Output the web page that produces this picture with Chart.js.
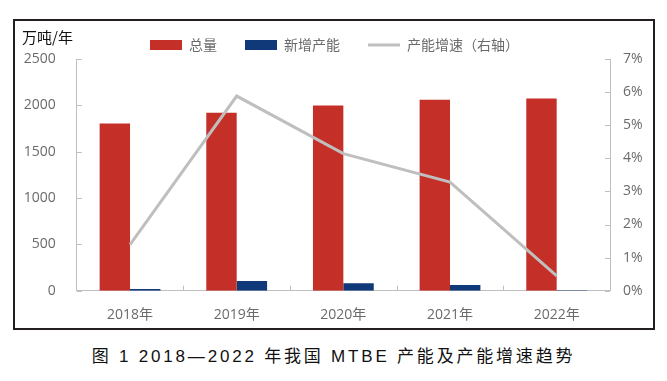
<!DOCTYPE html>
<html>
<head>
<meta charset="utf-8">
<script src="https://cdn.jsdelivr.net/npm/chart.js@4.4.1/dist/chart.umd.min.js"></script>
<style>
  html, body { margin: 0; padding: 0; background: #ffffff; }
  body { width: 667px; height: 381px; position: relative; overflow: hidden; }
  #frame { position: absolute; left: 13px; top: 19px; width: 638px; height: 307px; border: 2px solid #231f20; }
  #cv { position: absolute; left: 16px; top: 22px; }
  #unit { position: absolute; left: 22px; top: 27px; font: 15px "Noto Sans CJK SC", sans-serif; color: #111; line-height: 20px; }
  #caption { position: absolute; left: 0; width: 667px; top: 346px; text-align: center; font: 17px "Liberation Sans", "Noto Sans CJK SC", sans-serif; letter-spacing: 2.8px; color: #111; line-height: 22px; }
</style>
</head>
<body>
<div id="frame"></div>
<canvas id="cv" width="637" height="306"></canvas>
<div id="unit">万吨/年</div>
<div id="caption">图 1 2018—2022 年我国 MTBE 产能及产能增速趋势</div>
<script>
const categories = ["2018年", "2019年", "2020年", "2021年", "2022年"];
const totalCapacity = [1804, 1919, 1999, 2060, 2075];
const newCapacity = [18, 104, 80, 62, 4];
const growthRate = [1.39, 5.88, 4.14, 3.28, 0.45];
const seriesNames = ["总量", "新增产能", "产能增速（右轴）"];

const GRAY_TXT = "#6a6a6a";
const AXIS = "#bfbfbf";
const FONT = "'Open Sans', 'Noto Sans CJK SC', sans-serif";

const innerTicks = {
  id: "innerTicks",
  afterDraw(chart) {
    const ctx = chart.ctx;
    const y = chart.scales.y, y1 = chart.scales.y1, x = chart.scales.x;
    ctx.save();
    ctx.strokeStyle = AXIS;
    ctx.lineWidth = 1;
    ctx.beginPath();
    y.ticks.forEach(t => {
      const py = Math.round(y.getPixelForValue(t.value)) + 0.5;
      ctx.moveTo(y.right, py); ctx.lineTo(y.right + 5, py);
    });
    y1.ticks.forEach(t => {
      const py = Math.round(y1.getPixelForValue(t.value)) + 0.5;
      ctx.moveTo(y1.left - 5, py); ctx.lineTo(y1.left, py);
    });
    for (let i = 1; i < categories.length; i++) {
      const px = Math.round((x.getPixelForValue(i - 1) + x.getPixelForValue(i)) / 2) + 0.5;
      ctx.moveTo(px, x.top - 5); ctx.lineTo(px, x.top);
    }
    ctx.stroke();
    ctx.restore();
  }
};

const legendFix = {
  id: "legendFix",
  beforeLayout(chart) {
    const lg = chart.legend;
    if (lg && !lg._patched) {
      const f = lg.fit;
      lg.fit = function () { f.call(this); this.height -= 3; };
      lg._patched = true;
    }
  }
};

new Chart(document.getElementById("cv"), {
  type: "bar",
  data: {
    labels: categories,
    datasets: [
      { label: seriesNames[0] + "\u3000", data: totalCapacity, backgroundColor: "#c42f28", yAxisID: "y", order: 1, pointStyle: "rect", categoryPercentage: 0.57, barPercentage: 1.0 },
      { label: seriesNames[1] + "\u3000", data: newCapacity, backgroundColor: "#10397a", yAxisID: "y", order: 2, pointStyle: "rect", categoryPercentage: 0.57, barPercentage: 1.0 },
      { type: "line", label: seriesNames[2], data: growthRate, borderColor: "#bfbfbf", backgroundColor: "#bfbfbf", borderWidth: 3, pointRadius: 0, tension: 0, yAxisID: "y1", order: 0, pointStyle: "line" }
    ]
  },
  options: {
    responsive: false,
    animation: false,
    layout: { padding: { top: 2, left: 0, right: 0, bottom: 0 } },
    plugins: {
      tooltip: { enabled: false },
      legend: {
        position: "top",
        labels: {
          usePointStyle: true,
          pointStyleWidth: 32,
          boxHeight: 10,
          padding: 14,
          color: GRAY_TXT,
          font: { family: "'Noto Sans CJK SC', sans-serif", size: 14 },
          sort: (a, b) => a.datasetIndex - b.datasetIndex
        }
      }
    },
    scales: {
      x: {
        grid: { display: false, drawTicks: false },
        border: { display: true, color: AXIS, width: 1 },
        ticks: { color: GRAY_TXT, font: { family: FONT, size: 14 }, padding: 16 },
        afterFit(s) { s.height = 37.3; }
      },
      y: {
        position: "left",
        min: 0, max: 2500,
        grid: { display: false, drawTicks: false },
        border: { display: true, color: AXIS, width: 1 },
        ticks: { stepSize: 500, color: GRAY_TXT, font: { family: FONT, size: 14 }, padding: 21, callback: v => String(v) },
        afterFit(s) { s.width = 60.7; }
      },
      y1: {
        position: "right",
        min: 0, max: 7,
        grid: { display: false, drawTicks: false },
        border: { display: true, color: AXIS, width: 1 },
        ticks: { stepSize: 1, color: GRAY_TXT, font: { family: FONT, size: 14 }, padding: 13, callback: v => v + "%" },
        afterFit(s) { s.width = 43; }
      }
    }
  },
  plugins: [innerTicks, legendFix]
});
</script>
</body>
</html>
